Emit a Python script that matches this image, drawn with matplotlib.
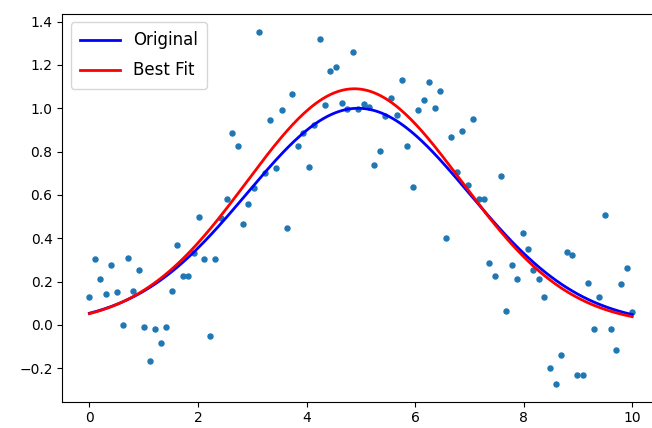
"""
Noisy gaussian samples with the original curve and the best fit
"""
import numpy as np
import matplotlib.pyplot as plt

# sample positions and noisy values
x_data = [0.00, 0.10, 0.20, 0.30, 0.40, 0.51, 0.61, 0.71, 0.81, 0.91,
          1.01, 1.11, 1.21, 1.31, 1.41, 1.52, 1.62, 1.72, 1.82, 1.92,
          2.02, 2.12, 2.22, 2.32, 2.42, 2.53, 2.63, 2.73, 2.83, 2.93,
          3.03, 3.13, 3.23, 3.33, 3.43, 3.54, 3.64, 3.74, 3.84, 3.94,
          4.04, 4.14, 4.24, 4.34, 4.44, 4.55, 4.65, 4.75, 4.85, 4.95,
          5.05, 5.15, 5.25, 5.35, 5.45, 5.56, 5.66, 5.76, 5.86, 5.96,
          6.06, 6.16, 6.26, 6.36, 6.46, 6.57, 6.67, 6.77, 6.87, 6.97,
          7.07, 7.17, 7.27, 7.37, 7.47, 7.58, 7.68, 7.78, 7.88, 7.98,
          8.08, 8.18, 8.28, 8.38, 8.48, 8.59, 8.69, 8.79, 8.89, 8.99,
          9.09, 9.19, 9.29, 9.39, 9.49, 9.60, 9.70, 9.80, 9.90, 10.00]
y_data = [0.131, 0.303, 0.214, 0.145, 0.277, 0.154, 0.000, 0.311, 0.157, 0.254,
          -0.008, -0.165, -0.018, -0.085, -0.008, 0.157, 0.369, 0.228, 0.228, 0.330,
          0.498, 0.303, -0.051, 0.303, 0.492, 0.581, 0.885, 0.828, 0.465, 0.557,
          0.631, 1.352, 0.703, 0.945, 0.725, 0.992, 0.449, 1.066, 0.826, 0.885,
          0.731, 0.924, 1.318, 1.015, 1.172, 1.189, 1.026, 0.995, 1.261, 0.998,
          1.018, 1.008, 0.737, 0.803, 0.964, 1.049, 0.968, 1.131, 0.828, 0.638,
          0.990, 1.040, 1.123, 1.000, 1.081, 0.400, 0.869, 0.705, 0.894, 0.646,
          0.950, 0.581, 0.581, 0.288, 0.228, 0.689, 0.063, 0.277, 0.214, 0.426,
          0.352, 0.254, 0.214, 0.131, -0.198, -0.272, -0.140, 0.336, 0.323, -0.232,
          -0.232, 0.195, -0.018, 0.131, 0.508, -0.018, -0.117, 0.188, 0.262, 0.059]

# gaussian parameters (amplitude, centre, width) of the two curves
orig_params = [1.00, 4.95, 2.05]
fit_params = [1.09, 4.88, 1.98]


def gauss(x, a, mu, sig):
    return a*np.exp(-(x - mu)**2/(2*sig**2))


fig = plt.figure(figsize=(6.52, 4.28), dpi=100)
ax = fig.add_axes([0.0955, 0.0614, 0.9158, 0.9059])

xs = np.linspace(min(x_data), max(x_data), 300)
ax.scatter(x_data, y_data, s=13, color='#1f77b4')
ax.plot(xs, gauss(xs, *orig_params), color='b', lw=2, label='Original')
ax.plot(xs, gauss(xs, *fit_params), color='r', lw=2, label='Best Fit')

ax.set_xlim(-0.5, 10.5)
ax.set_ylim(-0.354, 1.435)
ax.set_yticks([-0.2, 0.0, 0.2, 0.4, 0.6, 0.8, 1.0, 1.2, 1.4])
ax.legend(loc='upper left', fontsize=12, handlelength=2.4,
          labelspacing=0.72, borderpad=0.55)

fig.savefig("out.png", dpi=100)
